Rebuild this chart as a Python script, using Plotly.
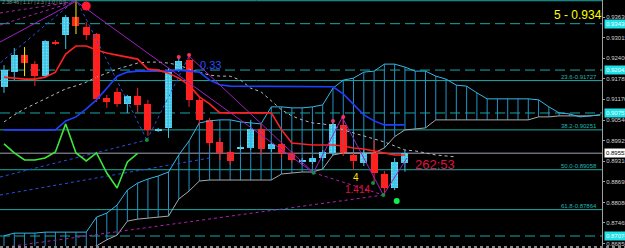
import plotly.graph_objects as go

# ---------------- data ----------------
opens  = [0.9154,0.9198,0.9249,0.9222,0.9186,0.9286,0.9309,0.9363,0.9333,0.9312,
          0.9121,0.9139,0.9103,0.9127,0.9103,0.9024,0.9031,0.9201,0.9234,0.9115,
          0.9055,0.8989,0.8959,0.8970,0.8971,0.9028,0.8968,0.8983,0.8956,0.8929,
          0.8929,0.8941,0.8956,0.9040,0.8950,0.8926,0.8956,0.8893,0.8851,0.8926]
highs  = [0.9219,0.9270,0.9273,0.9231,0.9294,0.9294,0.9369,0.9412,0.9348,0.9315,
          0.9130,0.9151,0.9130,0.9151,0.9115,0.9031,0.9210,0.9240,0.9243,0.9121,
          0.9061,0.9001,0.8965,0.8979,0.9055,0.9040,0.8989,0.8992,0.8962,0.8941,
          0.8947,0.8965,0.9055,0.9061,0.8956,0.8965,0.8995,0.8902,0.8941,0.8965]
lows   = [0.9136,0.9174,0.9186,0.9157,0.9183,0.9279,0.9267,0.9312,0.9294,0.9109,
          0.9091,0.9094,0.9076,0.9076,0.9007,0.9019,0.9001,0.9198,0.9094,0.9040,
          0.8974,0.8935,0.8920,0.8965,0.8965,0.8950,0.8959,0.8941,0.8926,0.8920,
          0.8923,0.8932,0.8950,0.8947,0.8905,0.8917,0.8869,0.8836,0.8845,0.8900]
closes = [0.9204,0.9249,0.9225,0.9186,0.9291,0.9284,0.9363,0.9336,0.9309,0.9118,
          0.9109,0.9103,0.9127,0.9100,0.9025,0.9027,0.9198,0.9231,0.9115,0.9055,
          0.8986,0.8956,0.8932,0.8973,0.9028,0.8968,0.8983,0.8956,0.8935,0.8935,
          0.8941,0.8959,0.9043,0.8956,0.8932,0.8956,0.8896,0.8851,0.8929,0.8955]
signal_bars = [2, 7]

tenkan = [0.9183,0.9180,0.9177,0.9177,0.9183,0.9198,0.9252,0.9276,0.9276,0.9264,
          0.9255,0.9249,0.9243,0.9237,0.9207,0.9204,0.9195,0.9180,0.9159,0.9124,
          0.9103,0.9076,0.9076,0.9076,0.9076,0.9076,0.9076,0.9025,0.8986,0.8983,
          0.8980,0.8980,0.8980,0.8977,0.8971,0.8968,0.8962,0.8956,0.8950,0.8950]
kijun  = [0.9025,0.9025,0.9025,0.9025,0.9025,0.9025,0.9052,0.9064,0.9088,0.9115,
          0.9150,0.9186,0.9198,0.9201,0.9201,0.9201,0.9201,0.9204,0.9201,0.9198,
          0.9174,0.9160,0.9156,0.9156,0.9156,0.9156,0.9156,0.9156,0.9156,0.9154,
          0.9154,0.9154,0.9154,0.9133,0.9100,0.9070,0.9052,0.9040,0.9040,0.9040]
span_a = [0.8708,0.8716,0.8716,0.8716,0.8719,0.8719,0.8719,0.8719,0.8719,0.8764,
          0.8776,0.8800,0.8845,0.8866,0.8878,0.8887,0.8899,0.8950,0.8992,0.9046,
          0.9052,0.9055,0.9055,0.9049,0.9046,0.9043,0.9094,0.9094,0.9091,0.9091,
          0.9094,0.9100,0.9150,0.9174,0.9180,0.9198,0.9201,0.9222,0.9222,0.9213,
          0.9201,0.9201,0.9186,0.9177,0.9159,0.9156,0.9136,0.9118,0.9118,0.9118,
          0.9118,0.9118,0.9115,0.9094,0.9076,0.9073,0.9064,0.9067,0.9070]
span_b = [0.8660,0.8660,0.8660,0.8660,0.8660,0.8660,0.8660,0.8660,0.8666,0.8678,
          0.8696,0.8710,0.8752,0.8758,0.8761,0.8764,0.8767,0.8818,0.8842,0.8872,
          0.8875,0.8875,0.8875,0.8875,0.8875,0.8875,0.8875,0.8893,0.8896,0.8899,
          0.8899,0.8908,0.8950,0.8956,0.8956,0.8956,0.8956,0.8971,0.9005,0.9025,
          0.9028,0.9031,0.9055,0.9055,0.9055,0.9055,0.9055,0.9055,0.9055,0.9055,
          0.9055,0.9055,0.9064,0.9064,0.9067,0.9067,0.9067,0.9067,0.9070]
ma_shifted = [0.9049,0.9070,0.9088,0.9103,0.9118,0.9133,0.9148,0.9157,0.9168,0.9183,
              0.9195,0.9207,0.9216,0.9225,0.9228,0.9228,0.9225,0.9219,0.9207,0.9198,
              0.9189,0.9186,0.9186,0.9174,0.9150,0.9139,0.9112,0.9085,0.9067,0.9055,
              0.9046,0.9043,0.9037,0.9025,0.9016,0.9007,0.8998,0.8989,0.8977,0.8965,
              0.8962,0.8956,0.8950,0.8947,0.8944]
chikou_shift = 26

fib_levels = [0.94117, 0.91727, 0.90251, 0.89058, 0.87864]
fib_texts  = ["", "23.6-0.91727", "38.2-0.90251", "50.0-0.89058", "61.8-0.87864"]
hlines     = [0.93430, 0.92042, 0.90757, 0.87074]
hline_tags = ["0.93430", "0.92042", "0.90757", "0.87074"]
last_price = 0.89553
last_tag   = "0.89553"

tick_vals  = [0.93630,0.93015,0.92400,0.91785,0.91170,0.90540,0.89925,0.89310,0.88695,0.88080,0.87465,0.86850]
tick_texts = ["0.93630","0.93015","0.92400","0.91785","0.91170","0.90540","0.89925","0.89310","0.88695","0.88080","0.87465","0.86850"]

# trend / zigzag objects: lists of (bar index, price)
purple_solid = [[(-0.39, 0.9288), (7.0, 0.9410)],
                [(7.0, 0.9410), (30.1, 0.8897)],
                [(18.0, 0.9246), (30.1, 0.8897)],
                [(30.1, 0.8897), (32.9, 0.9063), (36.9, 0.8830), (39.2, 0.8941)]]
purple_dot   = [[(-0.39, 0.9375), (7.0, 0.9410)],
                [(-0.39, 0.9339), (7.0, 0.9410)],
                [(-0.39, 0.8672), (36.9, 0.8830)],
                [(30.1, 0.8897), (36.9, 0.8830)]]
blue_dot     = [[(6.6, 0.9405), (-0.39, 0.9225)],
                [(7.2, 0.9405), (13.9, 0.8995)],
                [(-0.39, 0.8884), (13.9, 0.8995)],
                [(-0.39, 0.8830), (20.0, 0.8941)],
                [(13.9, 0.8995), (18.0, 0.9246)]]
low_marks    = [(13.9, 0.8995), (30.1, 0.8897), (35.9, 0.8866), (36.9, 0.8830)]
top_marks    = [(17.0, 0.9243), (18.0, 0.9249), (32.0, 0.9052), (33.0, 0.9064)]
big_red_mark = (8.0, 0.9396)
big_green_mark = (38.2, 0.8812)

texts = [("0.33", 18.9, 0.9220, "#2b4cff", 11),
         ("262:53", 39.8, 0.8920, "#e01040", 13),
         ("4", 33.8, 0.8882, "#ffe000", 10),
         ("1.414", 33.0, 0.8847, "#e01040", 10)]
corner_text = "2.38-46 | 1.17 | 2.3 | 1.0 | 0.9"
big_text = ("5 - 0.9346", 53.5, 0.9366)

# ---------------- figure ----------------
FONT = "Liberation Sans"
n = len(opens)
idx = list(range(n))
fig = go.Figure()

# cloud hatches
hx, hy = [], []
for i, (a, b) in enumerate(zip(span_a, span_b)):
    hx += [i, i, None]
    hy += [a, b, None]
fig.add_trace(go.Scatter(x=hx, y=hy, mode="lines", line=dict(color="#1f93c8", width=1), hoverinfo="skip"))
fig.add_trace(go.Scatter(x=list(range(len(span_b))), y=span_b, mode="lines", line=dict(color="#a8a8a8", width=1)))
fig.add_trace(go.Scatter(x=list(range(len(span_a))), y=span_a, mode="lines", line=dict(color="#35b8e8", width=1)))

# dotted shifted MA
fig.add_trace(go.Scatter(x=list(range(len(ma_shifted))), y=ma_shifted, mode="lines",
                         line=dict(color="#b8b8b8", width=1, dash="dot")))

def seg_trace(segs, color, dash, width):
    xs, ys = [], []
    for s in segs:
        for (x, y) in s:
            xs.append(x); ys.append(y)
        xs.append(None); ys.append(None)
    return go.Scatter(x=xs, y=ys, mode="lines", line=dict(color=color, width=width, dash=dash), hoverinfo="skip")

fig.add_trace(seg_trace(blue_dot, "#2a50e0", "dot", 1))
fig.add_trace(seg_trace(purple_dot, "#b020b0", "dot", 1))

# candles: wicks
for color, cond in [("#3cc4e6", lambda i: closes[i] >= opens[i] and i not in signal_bars),
                    ("#ff2020", lambda i: closes[i] < opens[i] and i not in signal_bars),
                    ("#ffee00", lambda i: i in signal_bars)]:
    wx, wy = [], []
    for i in idx:
        if cond(i):
            wx += [i, i, None]
            wy += [lows[i], highs[i], None]
    fig.add_trace(go.Scatter(x=wx, y=wy, mode="lines", line=dict(color=color, width=1), hoverinfo="skip"))

up = [i for i in idx if closes[i] >= opens[i]]
dn = [i for i in idx if closes[i] < opens[i]]
fig.add_trace(go.Bar(x=up, base=[opens[i] for i in up], y=[max(closes[i] - opens[i], 0.00025) for i in up],
                     width=0.68, marker=dict(color="#3cc4e6", line=dict(width=0),
                                             pattern=dict(shape=".", fgcolor="#b8f4ff", size=3, solidity=0.35))))
fig.add_trace(go.Bar(x=dn, base=[closes[i] for i in dn], y=[max(opens[i] - closes[i], 0.00025) for i in dn],
                     width=0.68, marker=dict(color="#ff2020", line=dict(width=0))))

# chikou
chikou = closes[chikou_shift:]
fig.add_trace(go.Scatter(x=list(range(len(chikou))), y=chikou, mode="lines", line=dict(color="#3ce63c", width=1.6)))
# kijun, tenkan
fig.add_trace(go.Scatter(x=idx, y=kijun, mode="lines", line=dict(color="#2040ff", width=1.6)))
fig.add_trace(go.Scatter(x=idx, y=tenkan, mode="lines", line=dict(color="#ff2020", width=1.6)))

fig.add_trace(seg_trace(purple_solid, "#a020c0", None, 1))

# markers
fig.add_trace(go.Scatter(x=[p[0] for p in low_marks], y=[p[1] for p in low_marks], mode="markers",
                         marker=dict(color="#109040", size=4)))
fig.add_trace(go.Scatter(x=[p[0] for p in top_marks], y=[p[1] for p in top_marks], mode="markers",
                         marker=dict(color="#ff3060", size=4)))
fig.add_trace(go.Scatter(x=[big_red_mark[0]], y=[big_red_mark[1]], mode="markers",
                         marker=dict(color="#ff1830", size=9)))
fig.add_trace(go.Scatter(x=[big_green_mark[0]], y=[big_green_mark[1]], mode="markers",
                         marker=dict(color="#10ee50", size=6)))

# big yellow label, clipped by the plot edge like the original
fig.add_trace(go.Scatter(x=[big_text[1]], y=[big_text[2]], mode="text", text=[big_text[0]],
                         textposition="middle right", cliponaxis=True,
                         textfont=dict(family=FONT, size=12, color="#ffff00"), hoverinfo="skip"))

shapes = []
for lv in fib_levels:
    shapes.append(dict(type="line", xref="paper", x0=0, x1=1, yref="y", y0=lv, y1=lv,
                       line=dict(color="#18aaa6", width=1), layer="below"))
for lv in hlines:
    shapes.append(dict(type="line", xref="paper", x0=0, x1=1, yref="y", y0=lv, y1=lv,
                       line=dict(color="#18a6a6", width=1, dash="10px,5px"), layer="below"))
shapes.append(dict(type="line", xref="paper", x0=0, x1=1, yref="y", y0=last_price, y1=last_price,
                   line=dict(color="#a0a0b8", width=1), layer="below"))
shapes.append(dict(type="line", xref="paper", x0=0, x1=1.04, yref="paper", y0=-0.004, y1=-0.004,
                   line=dict(color="#8a8a8a", width=2, dash="dot")))

ann = []
for lv, t in zip(fib_levels, fib_texts):
    if t:
        ann.append(dict(x=0.995, xref="paper", y=lv, yref="y", text=t, showarrow=False,
                        xanchor="right", yanchor="bottom", yshift=-1,
                        font=dict(family=FONT, size=6, color="#20b8b0")))
for lv, t in zip(hlines, hline_tags):
    ann.append(dict(x=1.0, xref="paper", y=lv, yref="y", text=t, showarrow=False,
                    xanchor="left", xshift=2, bgcolor="#20e0e8", borderpad=1,
                    font=dict(family=FONT, size=6, color="#f0ffff")))
ann.append(dict(x=1.0, xref="paper", y=last_price, yref="y", text=last_tag, showarrow=False,
                xanchor="left", xshift=2, bgcolor="#ffffff", borderpad=1,
                font=dict(family=FONT, size=6, color="#000000")))
for t, x, y, c, s in texts:
    ann.append(dict(x=x, y=y, text=t, showarrow=False, xanchor="left",
                    font=dict(family=FONT, size=s, color=c)))
ann.append(dict(x=0.0, xref="paper", y=1.0, yref="paper", text=corner_text, showarrow=False,
                xanchor="left", yanchor="top", yshift=3,
                font=dict(family=FONT, size=5, color="#909090")))

fig.update_layout(
    width=625, height=248, margin=dict(l=0, r=23, t=0, b=2),
    paper_bgcolor="#000000", plot_bgcolor="#000000", showlegend=False,
    barmode="overlay", bargap=0,
    shapes=shapes, annotations=ann,
    xaxis=dict(range=[-0.39, 58.17], visible=False, fixedrange=True),
    yaxis=dict(range=[0.86775, 0.94139], side="right", tickvals=tick_vals, ticktext=tick_texts,
               tickfont=dict(family=FONT, size=6, color="#d0d0d0"), showgrid=False, zeroline=False,
               ticks="outside", ticklen=2, tickcolor="#a0a0a0", showline=True, linecolor="#a0a0a0",
               linewidth=1, automargin=False, fixedrange=True),
)
fig.write_html("out.html", config={"displayModeBar": False})
